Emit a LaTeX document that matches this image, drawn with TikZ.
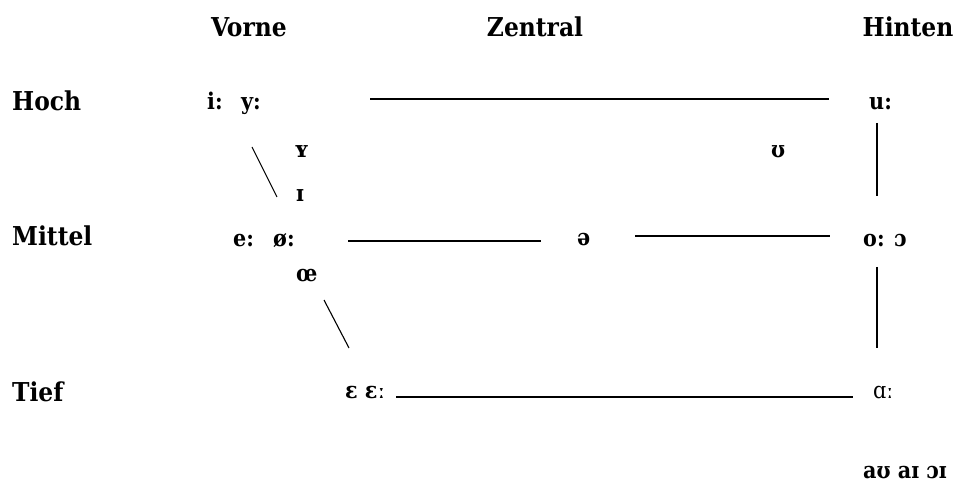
\documentclass[tikz,border=0pt]{standalone}
\usepackage{fontspec}
\setmainfont{DejaVu Serif Condensed}
\begin{document}
\begin{tikzpicture}[x=1pt,y=-1pt,
  head/.style={font=\fontsize{26}{30}\selectfont\bfseries, inner sep=0pt, anchor=base},
  rowlab/.style={font=\fontsize{26}{30}\selectfont\bfseries, inner sep=0pt, anchor=base west},
  ipa/.style={font=\fontsize{23}{27}\selectfont\bfseries, inner sep=0pt, anchor=base west},
  ipalight/.style={font=\fontsize{23}{27}\selectfont, inner sep=0pt, anchor=base west},
  ln/.style={line width=1.2pt},
  diag/.style={line width=1.1pt}]
\useasboundingbox (0,0) rectangle (972,486);
% headings
\node[head] (vorne) at (249,37) {Vorne};
\node[head] (zentral) at (535,37) {Zentral};
\node[head] (hinten) at (908,37) {Hinten};
% row labels
\node[rowlab] (hoch) at (12,111) {Hoch};
\node[rowlab] (mittel) at (12,246) {Mittel};
\node[rowlab] (tief) at (12,401) {Tief};
% vowels
\node[ipa] (i) at (207,110) {i:};
\node[ipa] (y) at (241,110) {y:};
\node[ipa] (u) at (869,110) {u:};
\node[ipa] (Y) at (294,158) {ʏ};
\node[ipa] (I) at (296,202) {ɪ};
\node[ipa] (U) at (771,158) {ʊ};
\node[ipa] (e) at (233,247) {e:};
\node[ipa] (oe) at (273,247) {ø:};
\node[ipa] (schwa) at (577,246) {ə};
\node[ipa] (o) at (863,247) {o: ɔ};
\node[ipa] (OE) at (296,282) {œ};
\node[ipa] (E) at (345,398) {ɛ ɛː};
\node[ipalight] (A) at (873,398) {ɑː};
\node[ipa] (diph) at (863,478) {aʊ aɪ ɔɪ};
% line ends
\coordinate (t1) at (370,99);  \coordinate (t2) at (829,99);
\coordinate (m1) at (348,241); \coordinate (m2) at (541,241);
\coordinate (m3) at (635,236); \coordinate (m4) at (830,236);
\coordinate (b1) at (396,397); \coordinate (b2) at (853,397);
\coordinate (v1) at (877,123); \coordinate (v2) at (877,196);
\coordinate (v3) at (877,267); \coordinate (v4) at (877,348);
\coordinate (d1) at (252,147); \coordinate (d2) at (277,197);
\coordinate (d3) at (324,300); \coordinate (d4) at (349,348);
\draw[ln] (t1) -- (t2);
\draw[ln] (m1) -- (m2);
\draw[ln] (m3) -- (m4);
\draw[ln] (b1) -- (b2);
\draw[ln] (v1) -- (v2);
\draw[ln] (v3) -- (v4);
\draw[diag] (d1) -- (d2);
\draw[diag] (d3) -- (d4);
\end{tikzpicture}
\end{document}
